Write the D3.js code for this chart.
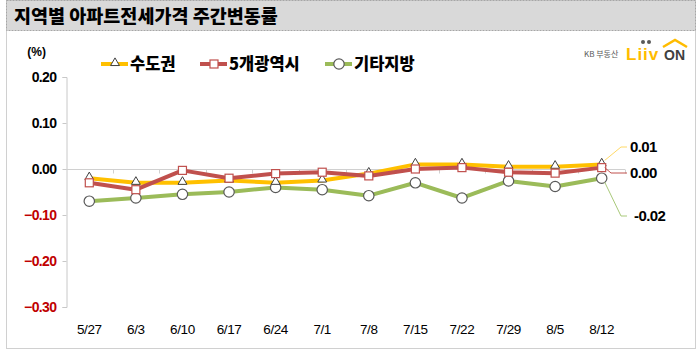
<!DOCTYPE html>
<html>
<head>
<meta charset="utf-8">
<script src="https://cdn.jsdelivr.net/npm/d3@7"></script>
<style>
  body { margin: 0; background: #fff; }
  svg { display: block; }
  text { font-family: "Liberation Sans Narrow", "Liberation Sans", Arial, sans-serif; }
  .kr { font-family: "Noto Sans CJK KR", "Noto Sans", sans-serif; }
</style>
</head>
<body>
<svg id="chart" width="699" height="351"></svg>
<script>
// 데이터
const weeks = ['5/27', '6/3', '6/10', '6/17', '6/24', '7/1', '7/8', '7/15', '7/22', '7/29', '8/5', '8/12'];
const capital = [-0.02, -0.03, -0.03, -0.025, -0.03, -0.025, -0.01, 0.01, 0.01, 0.005, 0.005, 0.01];
const metro5 = [-0.03, -0.045, -0.003, -0.02, -0.01, -0.007, -0.015, 0.0, 0.003, -0.007, -0.009, 0.003];
const others = [-0.07, -0.063, -0.055, -0.05, -0.04, -0.045, -0.058, -0.03, -0.063, -0.026, -0.038, -0.02];
const yTicks = [0.20, 0.10, 0.00, -0.10, -0.20, -0.30];
const endLabels = ['0.01', '0.00', '-0.02'];

const svg = d3.select('#chart');

// 바깥 테두리
svg.append('rect')
  .attr('x', 6.5).attr('y', 0.5)
  .attr('width', 689).attr('height', 348)
  .attr('fill', 'none')
  .attr('stroke', '#d0d0d0');

// 제목 바
svg.append('rect')
  .attr('x', 6.5).attr('y', 0.5)
  .attr('width', 689).attr('height', 30)
  .attr('fill', '#d9d9d9')
  .attr('stroke', '#a6a6a6')
  .attr('stroke-dasharray', '2,1');

svg.append('text')
  .attr('class', 'kr')
  .attr('x', 14).attr('y', 23)
  .style('font-size', '18.5px')
  .style('font-weight', '900')
  .style('fill', '#000')
  .text('지역별 아파트전세가격 주간변동률');

const x = d3.scaleBand().domain(weeks).range([66, 625]).padding(0);
const y = d3.scaleLinear().domain([-0.30, 0.20]).range([307, 77]);
const cx = d => x(d) + x.bandwidth() / 2;

// 왼쪽 축
const yAxis = svg.append('g')
  .attr('transform', 'translate(66.5,0)')
  .call(d3.axisLeft(y).tickValues(yTicks).tickSize(4).tickFormat(''));
yAxis.selectAll('line, path').attr('stroke', '#c8c8c8');

yAxis.selectAll('.tlabel')
  .data(yTicks)
  .enter()
  .append('text')
  .attr('x', -10)
  .attr('y', d => y(d))
  .attr('dy', '0.35em')
  .style('text-anchor', 'end')
  .style('font-size', '14px')
  .style('font-weight', 'bold')
  .style('letter-spacing', '-0.6px')
  .style('fill', d => d < 0 ? '#c00000' : '#000')
  .text(d => d3.format('.2f')(d));

svg.append('text')
  .attr('x', 46).attr('y', 56)
  .style('text-anchor', 'end')
  .style('font-size', '12px')
  .style('font-weight', 'bold')
  .style('fill', '#000')
  .text('(%)');

// 0 기준선
const xAxis = svg.append('g')
  .attr('transform', `translate(0,${Math.round(y(0)) + 0.5})`);
xAxis.append('line')
  .attr('x1', 66).attr('x2', 625)
  .attr('stroke', '#d0d0d0');
xAxis.selectAll('.tick')
  .data(d3.range(1, weeks.length + 1))
  .enter()
  .append('line')
  .attr('x1', i => Math.round(66 + i * x.bandwidth()) + 0.5)
  .attr('x2', i => Math.round(66 + i * x.bandwidth()) + 0.5)
  .attr('y1', 0).attr('y2', 4)
  .attr('stroke', '#d0d0d0');

// x 라벨
svg.append('g')
  .selectAll('text')
  .data(weeks)
  .enter()
  .append('text')
  .attr('x', d => cx(d))
  .attr('y', 334)
  .style('text-anchor', 'middle')
  .style('font-size', '13.5px')
  .style('letter-spacing', '-0.4px')
  .style('fill', '#000')
  .text(d => d);

const series = [
  { name: '수도권', values: capital, color: '#ffc000', marker: 'triangle', stroke: '#404040' },
  { name: '5개광역시', values: metro5, color: '#c0504d', marker: 'square', stroke: '#c0504d' },
  { name: '기타지방', values: others, color: '#9bbb59', marker: 'circle', stroke: '#595959' }
];

const line = d3.line()
  .x((d, i) => cx(weeks[i]))
  .y(d => y(d));

function drawMarker(g, type, stroke) {
  if (type === 'triangle') {
    g.append('path')
      .attr('d', d3.symbol().type(d3.symbolTriangle).size(34)())
      .attr('transform', 'translate(0,-1)')
      .attr('fill', '#fff')
      .attr('stroke', stroke)
      .attr('stroke-width', 1);
  } else if (type === 'square') {
    g.append('rect')
      .attr('x', -4).attr('y', -4)
      .attr('width', 8).attr('height', 8)
      .attr('fill', '#fff')
      .attr('stroke', stroke)
      .attr('stroke-width', 1.2);
  } else {
    g.append('circle')
      .attr('r', 5.2)
      .attr('fill', '#fff')
      .attr('stroke', stroke)
      .attr('stroke-width', 1.2);
  }
}

// 선 그리기 (뒤에서부터)
[series[2], series[0], series[1]].forEach(s => {
  svg.append('path')
    .datum(s.values)
    .attr('d', line)
    .attr('fill', 'none')
    .attr('stroke', s.color)
    .attr('stroke-width', 4)
    .attr('stroke-linejoin', 'round');
});
[series[2], series[0], series[1]].forEach(s => {
  s.values.forEach((v, i) => {
    const g = svg.append('g').attr('transform', `translate(${cx(weeks[i])},${y(v)})`);
    drawMarker(g, s.marker, s.stroke);
  });
});

// 끝 라벨과 지시선
const last = weeks[weeks.length - 1];
const labelY = [147, 173, 216];
const leaderColor = ['#ffd966', '#c0504d', '#a9c97a'];
series.forEach((s, k) => {
  const v = s.values[s.values.length - 1];
  const x0 = cx(last) + 3;
  const y0 = y(v) + (k === 0 ? -4 : k === 2 ? 4 : 0);
  svg.append('polyline')
    .attr('points', `${x0},${y0} ${k === 1 ? 611 : 621},${labelY[k]} ${627},${labelY[k]}`)
    .attr('fill', 'none')
    .attr('stroke', leaderColor[k])
    .attr('stroke-width', 1);
  svg.append('text')
    .attr('x', k === 2 ? 634 : 630)
    .attr('y', labelY[k])
    .attr('dy', '0.36em')
    .style('font-size', '15px')
    .style('font-weight', 'bold')
    .style('letter-spacing', '-0.6px')
    .style('fill', '#000')
    .text(endLabels[k]);
});

// 범례
const legendX = [101, 200, 325];
series.forEach((s, k) => {
  const g = svg.append('g').attr('transform', `translate(${legendX[k]},64)`);
  g.append('line')
    .attr('x1', 0).attr('x2', 27)
    .attr('stroke', s.color)
    .attr('stroke-width', 4);
  const m = g.append('g').attr('transform', 'translate(14,0)');
  drawMarker(m, s.marker, s.stroke);
  g.append('text')
    .attr('class', 'kr')
    .attr('x', 29).attr('y', 0)
    .attr('dy', '0.36em')
    .style('font-size', '16.5px')
    .style('font-weight', '900')
    .style('fill', '#000')
    .text(s.name);
});

// 로고
const logo = svg.append('g');
logo.append('text')
  .attr('class', 'kr')
  .attr('x', 584).attr('y', 57)
  .style('font-size', '8px')
  .style('fill', '#595959')
  .text('KB 부동산');
logo.append('text')
  .attr('x', 626).attr('y', 60)
  .style('font-size', '17px')
  .style('font-weight', 'bold')
  .style('fill', '#ffbc00')
  .style('letter-spacing', '1px')
  .text('Liiv');
logo.append('circle').attr('cx', 643).attr('cy', 42).attr('r', 2).attr('fill', '#595959');
logo.append('circle').attr('cx', 649).attr('cy', 42).attr('r', 2).attr('fill', '#595959');
logo.append('text')
  .attr('x', 664).attr('y', 60)
  .style('font-size', '14px')
  .style('font-weight', 'bold')
  .style('fill', '#404040')
  .text('ON');
logo.append('polyline')
  .attr('points', '663,47 675,40 687,47')
  .attr('fill', 'none')
  .attr('stroke', '#ffbc00')
  .attr('stroke-width', 2.5);
</script>
</body>
</html>
